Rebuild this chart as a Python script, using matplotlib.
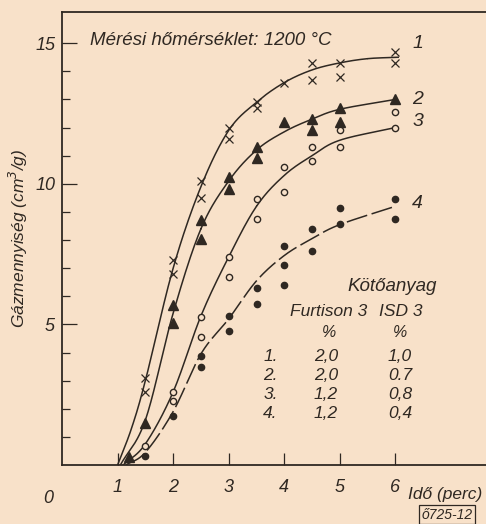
import numpy as np
import matplotlib
matplotlib.use('Agg')
import matplotlib.pyplot as plt

# measured points (time in min, gas volume in cm3/g)
x1 = [1.5, 1.5, 2, 2, 2.5, 2.5, 3, 3, 3.5, 3.5, 4, 4.5, 4.5, 5, 5, 6, 6]
y1 = [3.1, 2.6, 7.3, 6.8, 10.1, 9.5, 12.0, 11.6, 12.9, 12.7, 13.6, 14.3, 13.7, 14.3, 13.8, 14.7, 14.3]
x2 = [1.2, 1.5, 2, 2, 2.5, 2.5, 3, 3, 3.5, 3.5, 4, 4.5, 4.5, 5, 5, 6]
y2 = [0.3, 1.5, 5.7, 5.05, 8.7, 8.05, 10.25, 9.8, 11.3, 10.9, 12.2, 12.3, 11.9, 12.7, 12.2, 13.0]
x3 = [1.5, 2, 2, 2.5, 2.5, 3, 3, 3.5, 3.5, 4, 4, 4.5, 4.5, 5, 5, 6, 6]
y3 = [0.67, 2.6, 2.28, 5.27, 4.55, 7.4, 6.7, 9.47, 8.75, 10.6, 9.7, 11.3, 10.8, 11.9, 11.3, 12.0, 12.56]
x4 = [1.5, 2, 2.5, 2.5, 3, 3, 3.5, 3.5, 4, 4, 4, 4.5, 4.5, 5, 5, 6, 6]
y4 = [0.32, 1.74, 3.88, 3.49, 5.3, 4.77, 6.3, 5.73, 7.8, 7.1, 6.4, 8.4, 7.6, 9.15, 8.58, 9.47, 8.75]

# hand-drawn curves (knots)
c1x = [1.0, 1.25, 1.5, 2.0, 2.5, 3.0, 3.5, 4.0, 4.5, 5.0, 5.5, 6.05]
c1y = [0.0, 1.3, 3.0, 7.0, 9.9, 11.9, 12.9, 13.6, 14.05, 14.3, 14.45, 14.5]
c2x = [1.05, 1.5, 2.0, 2.5, 3.0, 3.5, 4.0, 4.5, 5.0, 6.0]
c2y = [0.0, 1.6, 5.4, 8.4, 10.1, 11.2, 11.85, 12.3, 12.65, 13.0]
c3x = [1.1, 1.5, 2.0, 2.5, 3.0, 3.5, 4.0, 4.5, 5.0, 6.0]
c3y = [0.0, 0.75, 2.6, 5.3, 7.4, 9.2, 10.3, 11.0, 11.55, 12.0]
c4x = [1.15, 1.5, 2.0, 2.5, 3.0, 3.5, 4.0, 4.5, 5.0, 6.0]
c4y = [0.0, 0.45, 1.9, 3.95, 5.2, 6.55, 7.45, 8.05, 8.55, 9.2]

rows = ['1.', '2.', '3.', '4.']
furtison = ['2,0', '2,0', '1,2', '1,2']
isd = ['1,0', '0.7', '0,8', '0,4']

bg = '#f8e1c9'
ink = '#2f2822'
plt.rcParams['font.family'] = ['Liberation Sans', 'DejaVu Sans']
plt.rcParams['font.style'] = 'italic'


def smooth(xs, ys, n=30):
    p = np.column_stack([xs, ys]).astype(float)
    p = np.vstack([2 * p[0] - p[1], p, 2 * p[-1] - p[-2]])
    out = []
    t = np.linspace(0, 1, n)[:, None]
    for i in range(1, len(p) - 2):
        p0, p1, p2, p3 = p[i - 1], p[i], p[i + 1], p[i + 2]
        seg = 0.5 * ((2 * p1) + (-p0 + p2) * t + (2 * p0 - 5 * p1 + 4 * p2 - p3) * t ** 2
                     + (-p0 + 3 * p1 - 3 * p2 + p3) * t ** 3)
        out.append(seg)
    out = np.vstack(out)
    return out[:, 0], out[:, 1]


fig = plt.figure(figsize=(4.86, 5.24), dpi=100, facecolor=bg)
ax = fig.add_axes([0.1276, 0.1126, 0.8724, 0.864])
ax.set_facecolor(bg)
ax.set_xlim(0, 7.63)
ax.set_ylim(0, 16.1)

for cx, cy, ls in [(c1x, c1y, '-'), (c2x, c2y, '-'), (c3x, c3y, '-'), (c4x, c4y, '--')]:
    sx, sy = smooth(cx, cy)
    line, = ax.plot(sx, sy, color=ink, lw=1.1, ls=ls)
    if ls == '--':
        line.set_dashes((14, 3))

ax.plot(x1, y1, 'x', color=ink, ms=6, mew=0.9)
ax.plot(x2, y2, '^', color=ink, ms=7.5, mec=ink)
ax.plot(x3, y3, 'o', mfc=bg, mec=ink, ms=4.5, mew=1.0)
ax.plot(x4, y4, 'o', color=ink, ms=4.5)

ax.spines['right'].set_visible(False)
for s in ['left', 'bottom', 'top']:
    ax.spines[s].set_color(ink)
    ax.spines[s].set_linewidth(1.3)

ax.set_xticks([1, 2, 3, 4, 5, 6])
ax.set_xticklabels(['1', '2', '3', '4', '5', '6'])
ax.set_yticks([5, 10, 15])
ax.set_yticks(range(1, 16), minor=True)
ax.tick_params(axis='x', direction='in', length=9, width=0.9, colors=ink, labelsize=13, pad=10)
ax.tick_params(axis='y', which='major', direction='in', length=11, width=0.9, colors=ink, labelsize=13, pad=5)
ax.tick_params(axis='y', which='minor', direction='in', length=6, width=0.9, colors=ink)

ax.text(-0.25, -0.9, '0', ha='center', va='top', fontsize=13, color=ink, clip_on=False)
ax.text(6.22, -0.8, 'Idő (perc)', ha='left', va='top', fontsize=12.5, color=ink, clip_on=False)
ax.set_ylabel('Gázmennyiség (cm$^3$/g)', fontsize=12.5, color=ink, labelpad=4)

ax.text(0.5, 15.1, 'Mérési hőmérséklet: 1200 °C', fontsize=13.5, color=ink, va='center')
for lab, ly in zip(['1', '2', '3', '4'], [15.0, 13.0, 12.2, 9.3]):
    ax.text(6.3, ly, lab, fontsize=14, color=ink, va='center')

ax.text(5.94, 6.35, 'Kötőanyag', fontsize=13.5, color=ink, ha='center', va='center')
ax.text(4.8, 5.45, 'Furtison 3', fontsize=12.5, color=ink, ha='center', va='center')
ax.text(6.1, 5.45, 'ISD 3', fontsize=12.5, color=ink, ha='center', va='center')
ax.text(4.8, 4.7, '%', fontsize=11.5, color=ink, ha='center', va='center')
ax.text(6.08, 4.7, '%', fontsize=11.5, color=ink, ha='center', va='center')
for i, (r, f, d) in enumerate(zip(rows, furtison, isd)):
    yy = 3.85 - i * 0.67
    ax.text(3.75, yy, r, fontsize=12.5, color=ink, ha='center', va='center')
    ax.text(4.75, yy, f, fontsize=12.5, color=ink, ha='center', va='center')
    ax.text(6.08, yy, d, fontsize=12.5, color=ink, ha='center', va='center')

fig.text(0.92, 0.018, 'ő725-12', fontsize=10, color=ink, ha='center', va='center',
         bbox=dict(boxstyle='square,pad=0.2', fc=bg, ec=ink, lw=0.9))

fig.savefig('out.png', dpi=100, facecolor=bg)
